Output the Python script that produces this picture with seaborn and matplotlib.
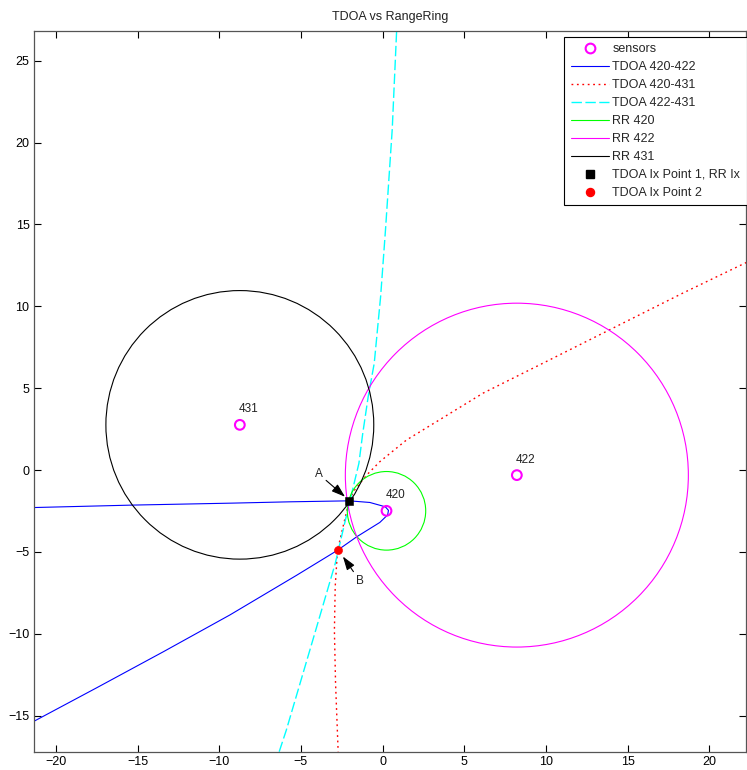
import matplotlib
matplotlib.use("Agg")
import matplotlib.pyplot as plt
from matplotlib.patches import Circle
from matplotlib.lines import Line2D
import seaborn as sns
import pandas as pd

# ---------------- data ----------------
sensor_ids = ["420", "422", "431"]
sensor_x = [0.24, 8.22, -8.74]
sensor_y = [-2.49, -0.31, 2.76]
ring_radius = [2.4, 10.5, 8.2]
ring_colors = ["#00ff00", "#ff00ff", "#000000"]

tdoa_420_422_x = [-21.36, -15.3, -9.2, -5.68, -2.04, -0.78, -0.06, 0.17, 0.36, 0.31,
                  -0.17, -1.59, -2.76, -5.27, -9.35, -13.43, -17.51, -21.36]
tdoa_420_422_y = [-2.29, -2.14, -2.02, -1.94, -1.88, -1.98, -2.18, -2.25, -2.46, -2.74,
                  -3.2, -4.08, -4.9, -6.43, -8.85, -11.1, -13.3, -15.35]

tdoa_420_431_x = [22.28, 18.41, 14.33, 10.25, 6.16, 3.31, 1.47, -0.17, -0.98, -1.78,
                  -2.04, -2.28, -2.76, -2.9, -2.95, -2.88, -2.72]
tdoa_420_431_y = [12.68, 10.82, 8.78, 6.74, 4.7, 2.96, 1.84, 0.51, -0.31, -1.3,
                  -1.88, -2.86, -4.9, -7.1, -9.8, -13.0, -17.2]

tdoa_422_431_x = [-6.33, -5.9, -4.1, -2.9, -2.0, -1.45, -1.22, -0.88, -0.51, -0.12,
                  0.18, 0.59, 0.86]
tdoa_422_431_y = [-17.2, -15.9, -9.8, -5.71, -1.88, 0.41, 2.2, 4.49, 6.53, 10.6,
                  14.7, 20.8, 26.83]

ix_point1 = (-2.04, -1.88)
ix_point2 = (-2.76, -4.9)

x_ticks = [-20, -15, -10, -5, 0, 5, 10, 15, 20]
y_ticks = [-15, -10, -5, 0, 5, 10, 15, 20, 25]
x_limits = (-21.36, 22.28)
y_limits = (-17.2, 26.83)

legend_labels = ["sensors", "TDOA 420-422", "TDOA 420-431", "TDOA 422-431",
                 "RR 420", "RR 422", "RR 431", "TDOA Ix Point 1, RR Ix",
                 "TDOA Ix Point 2"]

# ---------------- styling ----------------
sns.set_theme(style="white")
plt.rcParams["font.family"] = ["Liberation Sans", "DejaVu Sans"]
plt.rcParams["axes.edgecolor"] = "#555555"
plt.rcParams["axes.linewidth"] = 0.9

W, H = 747, 770
fig = plt.figure(figsize=(W / 100, H / 100), dpi=100)
left_px, right_px, top_px, bottom_px = 33.7, 746.5, 30.7, 751.7
ax = fig.add_axes([left_px / W, 1 - bottom_px / H,
                   (right_px - left_px) / W, (bottom_px - top_px) / H])
ax.set_facecolor("white")

lw = 0.8

# TDOA curves
df1 = pd.DataFrame({"x": tdoa_420_422_x, "y": tdoa_420_422_y})
sns.lineplot(data=df1, x="x", y="y", sort=False, estimator=None, ax=ax,
             color="#0000ff", lw=lw, zorder=2)
df2 = pd.DataFrame({"x": tdoa_420_431_x, "y": tdoa_420_431_y})
sns.lineplot(data=df2, x="x", y="y", sort=False, estimator=None, ax=ax,
             color="#ff0000", lw=1.0, linestyle=":", zorder=2)
ax.lines[-1].set_dashes((1.3, 2.6))
df3 = pd.DataFrame({"x": tdoa_422_431_x, "y": tdoa_422_431_y})
sns.lineplot(data=df3, x="x", y="y", sort=False, estimator=None, ax=ax,
             color="#00ffff", lw=1.0, linestyle="--", zorder=2)
ax.lines[-1].set_dashes((7.5, 2.5))

# Range rings
for cx, cy, r, c in zip(sensor_x, sensor_y, ring_radius, ring_colors):
    ax.add_patch(Circle((cx, cy), r, fill=False, edgecolor=c, lw=lw, zorder=3))

# Sensors
sdf = pd.DataFrame({"x": sensor_x, "y": sensor_y})
sns.scatterplot(data=sdf, x="x", y="y", ax=ax, marker="o", s=49,
                facecolor="none", edgecolor="#ff00ff", linewidth=1.5, zorder=5)
for sid, sx, sy in zip(sensor_ids, sensor_x, sensor_y):
    ax.text(sx - 0.05, sy + 0.95, sid, fontsize=8.5, ha="left", va="center",
            color="#222222", zorder=6)

# Intersection points
sns.scatterplot(x=[ix_point1[0]], y=[ix_point1[1]], ax=ax, marker="s", s=32,
                color="black", edgecolor="black", linewidth=0.4, zorder=6)
sns.scatterplot(x=[ix_point2[0]], y=[ix_point2[1]], ax=ax, marker="o", s=34,
                color="#ff0000", edgecolor="#ff0000", linewidth=0.4, zorder=6)

# Annotations
arrow_kw = dict(arrowstyle="-|>,head_length=0.75,head_width=0.25", color="black",
                lw=0.8, shrinkA=0, shrinkB=0, mutation_scale=11)
ax.annotate("A", xy=(-2.3, -1.63), xytext=(-3.9, -0.25), fontsize=8.5,
            ha="center", va="center", color="#222222", arrowprops=arrow_kw, zorder=7)
ax.annotate("B", xy=(-2.43, -5.28), xytext=(-1.39, -6.77), fontsize=8.5,
            ha="center", va="center", color="#222222", arrowprops=arrow_kw, zorder=7)

# Axes
ax.set_xlim(*x_limits)
ax.set_ylim(*y_limits)
ax.set_xticks(x_ticks)
ax.set_yticks(y_ticks)
ax.set_xlabel("")
ax.set_ylabel("")
ax.tick_params(direction="in", length=5, width=0.8, colors="black",
               labelsize=9, top=True, right=True, bottom=True, left=True, pad=3)
for sp in ax.spines.values():
    sp.set_visible(True)
    sp.set_color("#555555")
ax.set_title("TDOA vs RangeRing", fontsize=9, pad=7.5, color="#222222")

# Legend
handles = [
    Line2D([], [], ls="none", marker="o", ms=7, mfc="none", mec="#ff00ff", mew=1.5),
    Line2D([], [], color="#0000ff", lw=lw),
    Line2D([], [], color="#ff0000", lw=1.0, dashes=(1.3, 2.6)),
    Line2D([], [], color="#00ffff", lw=1.0, dashes=(7.5, 2.5)),
    Line2D([], [], color="#00ff00", lw=lw),
    Line2D([], [], color="#ff00ff", lw=lw),
    Line2D([], [], color="#000000", lw=lw),
    Line2D([], [], ls="none", marker="s", ms=5.6, color="black"),
    Line2D([], [], ls="none", marker="o", ms=5.8, color="#ff0000"),
]
leg = ax.legend(handles, legend_labels, loc="upper right",
                bbox_to_anchor=(right_px / W, 1 - 36.7 / H),
                bbox_transform=fig.transFigure, borderaxespad=0,
                fontsize=9, frameon=True, fancybox=False, framealpha=1,
                edgecolor="black", handlelength=3.05, handletextpad=0.3,
                labelspacing=0.48, borderpad=0.5)
leg.get_frame().set_linewidth(0.8)
leg.set_zorder(10)

fig.savefig("out.png", dpi=100, facecolor="white")
